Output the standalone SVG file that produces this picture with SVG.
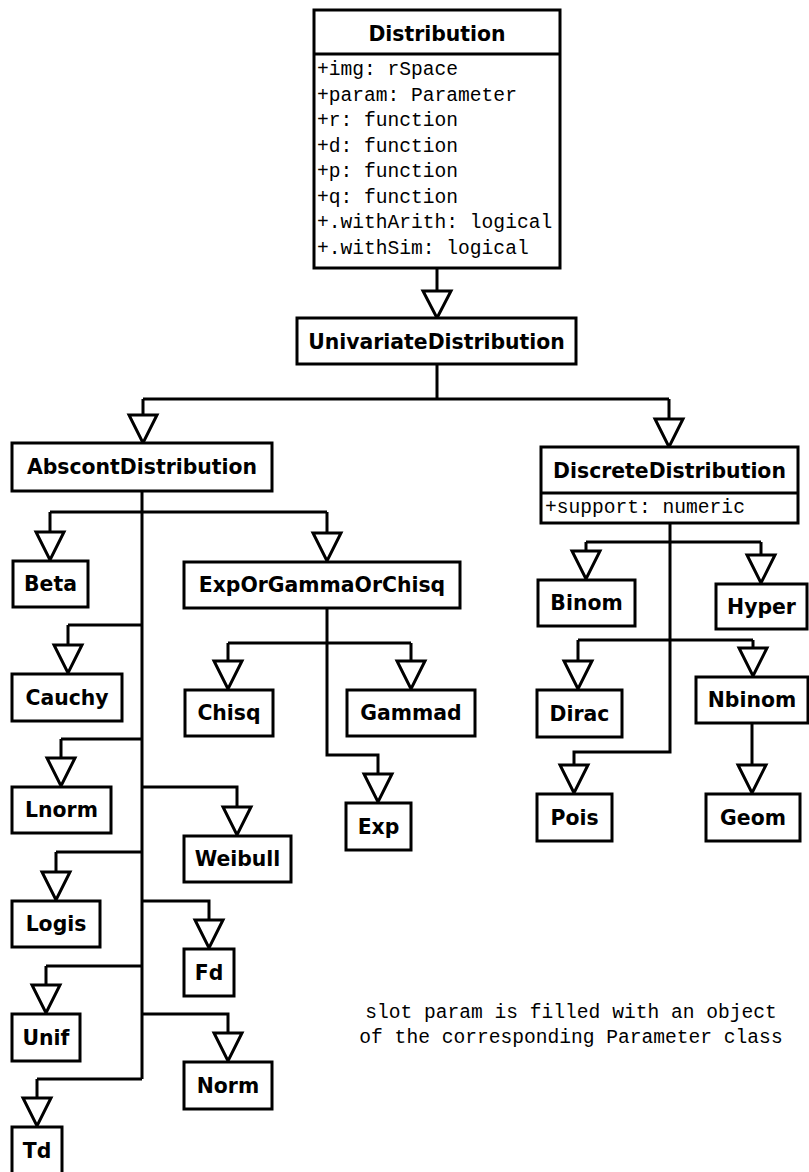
<svg xmlns="http://www.w3.org/2000/svg" width="809" height="1172" viewBox="0 0 809 1172">
<style>
.box{fill:#fff;stroke:#000;stroke-width:3}
.sep{stroke:#000;stroke-width:3}
.lbl{font-family:"DejaVu Sans",Verdana,sans-serif;font-weight:bold;font-size:20.4px;text-anchor:middle;fill:#000}
.attr{font-family:"Liberation Mono","Courier New",monospace;font-size:19.6px;fill:#000}
.note{font-family:"Liberation Mono","Courier New",monospace;font-size:19.6px;fill:#000;text-anchor:middle}
.con path{fill:none;stroke:#000;stroke-width:3}
.con polygon{fill:#fff;stroke:#000;stroke-width:3;stroke-linejoin:miter}
</style>
<rect width="809" height="1172" fill="#fff"/>
<g id="connectors" class="con">
<path d="M437,268V291"/>
<polygon points="423,291 451,291 437,318"/>
<path d="M437,364V399M143,399H669M143,399V415M669,399V419"/>
<polygon points="129,415 157,415 143,443"/>
<polygon points="655,419 683,419 669,447"/>
<path d="M142,491V1079M50,512H327M50,512V532M327,512V533"/>
<polygon points="36,532 64,532 50,560"/>
<polygon points="313,533 341,533 327,561"/>
<path d="M68,625H142M68,625V645"/>
<polygon points="54,645 82,645 68,673"/>
<path d="M61,739H142M61,739V758"/>
<polygon points="47,758 75,758 61,786"/>
<path d="M142,787H237V807"/>
<polygon points="223,807 251,807 237,835"/>
<path d="M56,852H142M56,852V872"/>
<polygon points="42,872 70,872 56,900"/>
<path d="M142,901H209V920"/>
<polygon points="195,920 223,920 209,948"/>
<path d="M46,966H142M46,966V985"/>
<polygon points="32,985 60,985 46,1013"/>
<path d="M142,1014H228V1033"/>
<polygon points="214,1033 242,1033 228,1061"/>
<path d="M37,1079H142M37,1079V1098"/>
<polygon points="23,1098 51,1098 37,1126"/>
<path d="M327,608V755H378V774M228,643H411M228,643V661M411,643V661"/>
<polygon points="364,774 392,774 378,802"/>
<polygon points="214,661 242,661 228,689"/>
<polygon points="397,661 425,661 411,689"/>
<path d="M670,523V752H574V765M586,542H761M586,542V551M761,542V555M578,640H753M578,640V661M753,640V648"/>
<polygon points="572,551 600,551 586,579"/>
<polygon points="747,555 775,555 761,583"/>
<polygon points="564,661 592,661 578,689"/>
<polygon points="739,648 767,648 753,676"/>
<polygon points="560,765 588,765 574,793"/>
<path d="M752,723V765"/>
<polygon points="738,765 766,765 752,793"/>
</g>
<g id="Distribution">
<rect class="box" x="314" y="10" width="246" height="258"/>
<line class="sep" x1="314" y1="54" x2="560" y2="54"/>
<text class="lbl" x="437" y="41">Distribution</text>
<text class="attr" x="317" y="75">+img: rSpace</text>
<text class="attr" x="317" y="100.5">+param: Parameter</text>
<text class="attr" x="317" y="126">+r: function</text>
<text class="attr" x="317" y="151.5">+d: function</text>
<text class="attr" x="317" y="177">+p: function</text>
<text class="attr" x="317" y="202.5">+q: function</text>
<text class="attr" x="317" y="228">+.withArith: logical</text>
<text class="attr" x="317" y="253.5">+.withSim: logical</text>
</g>
<g id="UnivariateDistribution">
<rect class="box" x="297" y="318" width="279" height="46"/>
<text class="lbl" x="436.5" y="348.5">UnivariateDistribution</text>
</g>
<g id="AbscontDistribution">
<rect class="box" x="12" y="443" width="260" height="48"/>
<text class="lbl" x="142" y="474">AbscontDistribution</text>
</g>
<g id="DiscreteDistribution">
<rect class="box" x="541" y="447" width="257" height="76"/>
<line class="sep" x1="541" y1="493" x2="798" y2="493"/>
<text class="lbl" x="669.5" y="478">DiscreteDistribution</text>
<text class="attr" x="545" y="513">+support: numeric</text>
</g>
<g id="Beta"><rect class="box" x="13" y="561" width="75" height="46"/><text class="lbl" x="50.5" y="591">Beta</text></g>
<g id="ExpOrGammaOrChisq"><rect class="box" x="184" y="562" width="276" height="46"/><text class="lbl" x="322" y="592">ExpOrGammaOrChisq</text></g>
<g id="Cauchy"><rect class="box" x="12" y="674" width="110" height="47"/><text class="lbl" x="67" y="704.5">Cauchy</text></g>
<g id="Chisq"><rect class="box" x="185" y="690" width="88" height="46"/><text class="lbl" x="229" y="720">Chisq</text></g>
<g id="Gammad"><rect class="box" x="347" y="690" width="128" height="46"/><text class="lbl" x="411" y="720">Gammad</text></g>
<g id="Lnorm"><rect class="box" x="12" y="787" width="99" height="46"/><text class="lbl" x="61.5" y="817">Lnorm</text></g>
<g id="Exp"><rect class="box" x="346" y="803" width="65" height="47"/><text class="lbl" x="378.5" y="833.5">Exp</text></g>
<g id="Weibull"><rect class="box" x="184" y="836" width="107" height="46"/><text class="lbl" x="237.5" y="866">Weibull</text></g>
<g id="Logis"><rect class="box" x="12" y="901" width="88" height="46"/><text class="lbl" x="56" y="931">Logis</text></g>
<g id="Fd"><rect class="box" x="184" y="949" width="50" height="47"/><text class="lbl" x="209" y="979.5">Fd</text></g>
<g id="Unif"><rect class="box" x="12" y="1014" width="68" height="47"/><text class="lbl" x="46" y="1044.5">Unif</text></g>
<g id="Norm"><rect class="box" x="184" y="1062" width="88" height="47"/><text class="lbl" x="228" y="1092.5">Norm</text></g>
<g id="Td"><rect class="box" x="12" y="1127" width="50" height="50"/><text class="lbl" x="37" y="1157.5">Td</text></g>
<g id="Binom"><rect class="box" x="538" y="580" width="97" height="46"/><text class="lbl" x="586.5" y="610">Binom</text></g>
<g id="Hyper"><rect class="box" x="716" y="584" width="91" height="45"/><text class="lbl" x="761.5" y="613.5">Hyper</text></g>
<g id="Dirac"><rect class="box" x="537" y="690" width="85" height="47"/><text class="lbl" x="579.5" y="720.5">Dirac</text></g>
<g id="Nbinom"><rect class="box" x="696" y="677" width="112" height="46"/><text class="lbl" x="752" y="707">Nbinom</text></g>
<g id="Pois"><rect class="box" x="537" y="794" width="75" height="47"/><text class="lbl" x="574.5" y="824.5">Pois</text></g>
<g id="Geom"><rect class="box" x="706" y="794" width="94" height="47"/><text class="lbl" x="753" y="824.5">Geom</text></g>
<g id="note">
<text class="note" x="571" y="1018">slot param is filled with an object</text>
<text class="note" x="571" y="1043">of the corresponding Parameter class</text>
</g>
</svg>
